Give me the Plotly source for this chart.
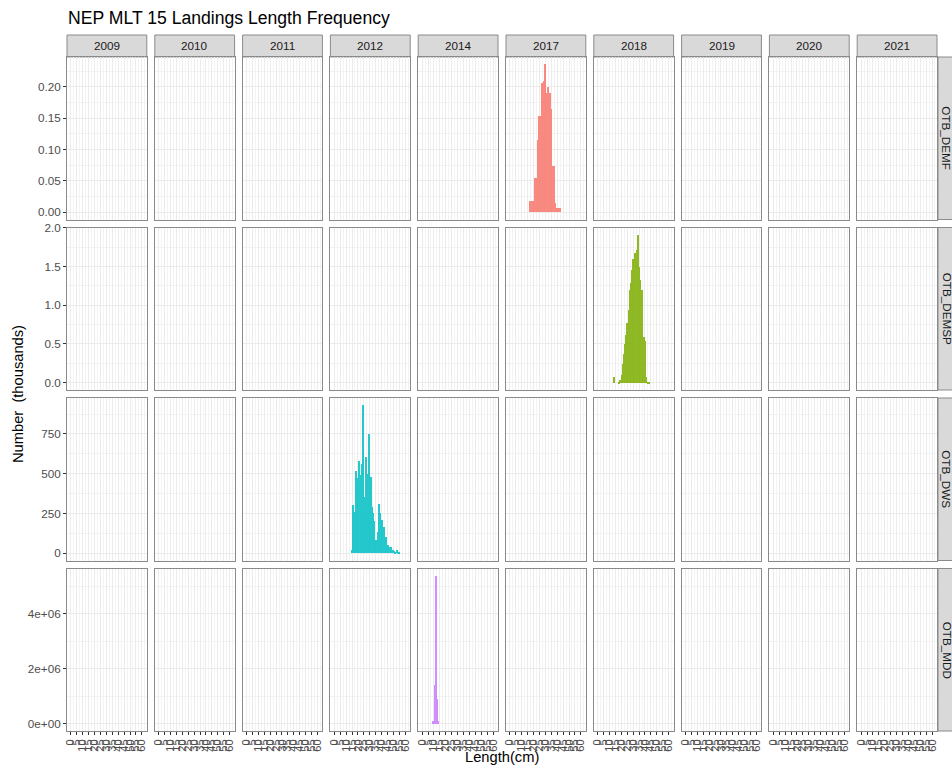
import plotly.graph_objects as go
from plotly.subplots import make_subplots

# ------------ data (numbers in thousands) ------------
years = ["2009", "2010", "2011", "2012", "2014", "2017", "2018", "2019", "2020", "2021"]
metiers = ["OTB_DEMF", "OTB_DEMSP", "OTB_DWS", "OTB_MDD"]

demf_year = "2017"
demf_len = [17, 18, 19, 20, 21, 22, 23, 24, 25, 26, 27, 28, 29, 30, 31, 32, 33, 34, 35, 36, 37, 38, 39, 40, 41, 42]
demf_num = [0.018, 0.010, 0.018, 0.018, 0.055, 0.055, 0.055, 0.116, 0.154, 0.154, 0.207, 0.130, 0.210, 0.236,
            0.190, 0.200, 0.164, 0.190, 0.164, 0.074, 0.074, 0.015, 0.007, 0.007, 0.007, 0.007]

demsp_year = "2018"
demsp_len = [14, 18, 19, 20, 21, 22, 23, 24, 25, 26, 27, 28, 29, 30, 31, 32, 33, 34, 35, 36, 37, 38, 39, 40, 41, 42, 43]
demsp_num = [0.08, 0.02, 0.04, 0.10, 0.25, 0.38, 0.50, 0.62, 0.78, 0.95, 1.20, 1.30, 1.46, 1.60, 1.68, 1.55,
             1.72, 1.91, 1.50, 1.33, 1.20, 0.60, 0.60, 0.55, 0.08, 0.02, 0.02]

dws_year = "2012"
dws_len = [15, 16, 17, 18, 19, 20, 21, 22, 23, 24, 25, 26, 27, 28, 29, 30, 31, 32, 33, 34, 35, 36, 37, 38, 39,
           40, 41, 42, 43, 44, 45, 46, 47, 48, 49, 50, 51, 52, 53, 54, 55]
dws_num = [20, 300, 260, 200, 520, 470, 580, 375, 490, 560, 930, 354, 605, 438, 500, 750, 480, 290, 250, 200,
           80, 80, 130, 312, 250, 210, 207, 165, 100, 100, 50, 50, 40, 40, 20, 20, 15, 8, 20, 8, 5]

mdd_year = "2014"
mdd_len = [9, 11, 12, 13, 14]
mdd_num = [1.3e5, 1.44e6, 5.38e6, 0.9e6, 1.3e5]

series = [
    (demf_year, demf_len, demf_num, "#F8766D"),
    (demsp_year, demsp_len, demsp_num, "#7CAE00"),
    (dws_year, dws_len, dws_num, "#00BFC4"),
    (mdd_year, mdd_len, mdd_num, "#C77CFF"),
]

x_ticks = list(range(0, 61, 5))
y_ticks = [
    [0, 0.05, 0.10, 0.15, 0.20],
    [0, 0.5, 1.0, 1.5, 2.0],
    [0, 250, 500, 750],
    [0, 2e6, 4e6],
]
y_labels = [
    ["0.00", "0.05", "0.10", "0.15", "0.20"],
    ["0.0", "0.5", "1.0", "1.5", "2.0"],
    ["0", "250", "500", "750"],
    ["0e+00", "2e+06", "4e+06"],
]
y_minor = [0.025, 0.25, 125, 1e6]

# ------------ layout geometry ------------
W, H = 952, 767
ML, MR, MT, MB = 67, 15, 57, 36
PW, PH = W - ML - MR, H - MT - MB
FONT = "Liberation Sans, Arial, sans-serif"

fig = make_subplots(rows=4, cols=10, horizontal_spacing=8 / PW, vertical_spacing=8 / PH)

for r in range(1, 5):
    year, lens, nums, col = series[r - 1]
    for c in range(1, 11):
        if years[c - 1] == year:
            fig.add_trace(go.Bar(x=lens, y=nums, marker=dict(color=col, line=dict(width=0)),
                                 opacity=0.85, width=0.9, showlegend=False), row=r, col=c)
        else:
            # empty panel, keeps the axes drawn
            fig.add_trace(go.Scatter(x=[None], y=[None], mode="markers", showlegend=False,
                                     hoverinfo="skip"), row=r, col=c)

border = "#8a8a8a"
grid = "#EBEBEB"
tickfont = dict(family=FONT, size=11.7, color="#4D4D4D")
xtickfont = dict(family=FONT, size=11, color="#4D4D4D")

for r in range(1, 5):
    top = max(series[r - 1][2])
    pad = top * 0.05
    for c in range(1, 11):
        fig.update_xaxes(row=r, col=c, range=[-3.3, 64.2], tickmode="array", tickvals=x_ticks,
                         ticktext=[str(v) for v in x_ticks], showticklabels=(r == 4),
                         ticks="outside" if r == 4 else "", ticklen=3, tickcolor="#333333",
                         tickangle=-90, tickfont=xtickfont,
                         showgrid=True, gridcolor=grid, gridwidth=1,
                         minor=dict(tickmode="linear", tick0=0, dtick=2.5, showgrid=True,
                                    gridcolor="#F3F3F3", gridwidth=1),
                         showline=True, mirror=True, linecolor=border, linewidth=1, zeroline=False,
                         fixedrange=True)
        fig.update_yaxes(row=r, col=c, range=[-pad, top + pad], tickmode="array",
                         tickvals=y_ticks[r - 1], ticktext=y_labels[r - 1],
                         showticklabels=(c == 1), ticks="outside" if c == 1 else "",
                         ticklen=3, tickcolor="#333333", tickfont=tickfont,
                         showgrid=True, gridcolor=grid, gridwidth=1,
                         minor=dict(tickmode="linear", tick0=0, dtick=y_minor[r - 1], showgrid=True,
                                    gridcolor="#F3F3F3", gridwidth=1),
                         showline=True, mirror=True, linecolor=border, linewidth=1, zeroline=False,
                         fixedrange=True)

shapes = []
annotations = []
strip_h = 22 / PH
for c in range(1, 11):
    xd = fig.get_subplot(1, c).xaxis.domain
    shapes.append(dict(type="rect", xref="paper", yref="paper", x0=xd[0], x1=xd[1], y0=1, y1=1 + strip_h,
                       fillcolor="#D9D9D9", line=dict(color=border, width=1), layer="below"))
    annotations.append(dict(text=years[c - 1], xref="paper", yref="paper", x=(xd[0] + xd[1]) / 2,
                            y=1 + strip_h / 2, xanchor="center", yanchor="middle", showarrow=False,
                            font=dict(family=FONT, size=11.7, color="#1A1A1A")))
for r in range(1, 5):
    yd = fig.get_subplot(r, 10).yaxis.domain
    shapes.append(dict(type="rect", xref="paper", yref="paper", x0=1 + 1 / PW, x1=1 + 26 / PW,
                       y0=yd[0], y1=yd[1], fillcolor="#D9D9D9", line=dict(color=border, width=1), layer="below"))
    annotations.append(dict(text=metiers[r - 1], xref="paper", yref="paper", x=1 + 10 / PW,
                            y=(yd[0] + yd[1]) / 2, xanchor="center", yanchor="middle",
                            showarrow=False, textangle=90,
                            font=dict(family=FONT, size=11.7, color="#1A1A1A")))

annotations.append(dict(text="Number\u00a0 (thousands)", xref="paper", yref="paper", x=-49 / PW, y=0.5,
                        xanchor="center", yanchor="middle", textangle=-90, showarrow=False,
                        font=dict(family=FONT, size=14.7, color="#000000")))
annotations.append(dict(text="Length(cm)", xref="paper", yref="paper", x=0.5, y=-26 / PH,
                        xanchor="center", yanchor="middle", showarrow=False,
                        font=dict(family=FONT, size=14.7, color="#000000")))

fig.update_layout(
    width=W, height=H,
    margin=dict(l=ML, r=MR, t=MT, b=MB),
    paper_bgcolor="white", plot_bgcolor="white",
    title=dict(text="NEP MLT 15 Landings Length Frequency", x=68 / W, xanchor="left",
               y=1 - 18 / H, yanchor="middle", yref="container",
               font=dict(family=FONT, size=17.6, color="#000000")),
    shapes=shapes, annotations=annotations, showlegend=False, bargap=0,
)

fig.write_html("out.html", config={"displayModeBar": False},
               post_script="document.body.style.margin='0px';")
